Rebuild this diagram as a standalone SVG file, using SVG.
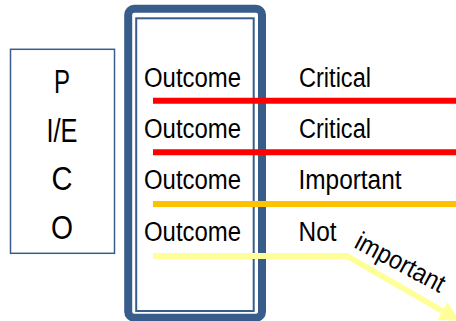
<svg xmlns="http://www.w3.org/2000/svg" width="456" height="321" viewBox="0 0 456 321">
<style>
text{font-family:"Liberation Sans",Arial,sans-serif;fill:#000}
.big{font-size:33px;text-anchor:middle}
.t{font-size:27px}
.ln{fill:none;stroke-width:6}
</style>
<defs>
<marker id="ah" markerUnits="userSpaceOnUse" markerWidth="20" markerHeight="20" viewBox="0 0 18 18" refX="0" refY="9" orient="auto">
<path d="M0,0 L18,9 L0,18 Z" fill="#FFFF99"/>
</marker>
</defs>
<rect width="456" height="321" fill="#fff"/>
<g id="pico">
<rect x="10.5" y="49.3" width="104" height="204" fill="#fff" stroke="#385D8A" stroke-width="1.5"/>
<text class="big" x="62" y="93" textLength="16" lengthAdjust="spacingAndGlyphs">P</text>
<text class="big" x="62" y="141.5" textLength="31" lengthAdjust="spacingAndGlyphs">I/E</text>
<text class="big" x="62" y="190" textLength="21" lengthAdjust="spacingAndGlyphs">C</text>
<text class="big" x="62" y="239" textLength="22" lengthAdjust="spacingAndGlyphs">O</text>
</g>
<g id="outcomes">
<rect x="128.2" y="8.7" width="133.8" height="309" rx="6" fill="#fff" stroke="#385D8A" stroke-width="8"/>
<rect x="136.2" y="18.3" width="117.5" height="292.7" fill="none" stroke="#385D8A" stroke-width="2"/>
<text class="t" x="144" y="86.5" textLength="97" lengthAdjust="spacingAndGlyphs">Outcome</text>
<text class="t" x="144" y="137.5" textLength="97" lengthAdjust="spacingAndGlyphs">Outcome</text>
<text class="t" x="144" y="189" textLength="97" lengthAdjust="spacingAndGlyphs">Outcome</text>
<text class="t" x="144" y="240.5" textLength="97" lengthAdjust="spacingAndGlyphs">Outcome</text>
</g>
<g id="connectors">
<line class="ln" x1="153" y1="100.7" x2="456" y2="100.7" stroke="#FF0000"/>
<line class="ln" x1="153" y1="152.3" x2="456" y2="152.3" stroke="#FF0000"/>
<line class="ln" x1="153" y1="204" x2="456" y2="204" stroke="#FFC000"/>
<polyline class="ln" points="153,256 347,256 442.4,311" stroke="#FFFF99" marker-end="url(#ah)"/>
</g>
<g id="labels">
<text class="t" x="299" y="86.5" textLength="72" lengthAdjust="spacingAndGlyphs">Critical</text>
<text class="t" x="299" y="137.5" textLength="72" lengthAdjust="spacingAndGlyphs">Critical</text>
<text class="t" x="298.5" y="189" textLength="103" lengthAdjust="spacingAndGlyphs">Important</text>
<text class="t" x="298.5" y="240.5" textLength="38" lengthAdjust="spacingAndGlyphs">Not</text>
<text transform="translate(353,247) rotate(28)" x="0" y="0" font-size="26" textLength="98" lengthAdjust="spacingAndGlyphs">important</text>
</g>
</svg>
